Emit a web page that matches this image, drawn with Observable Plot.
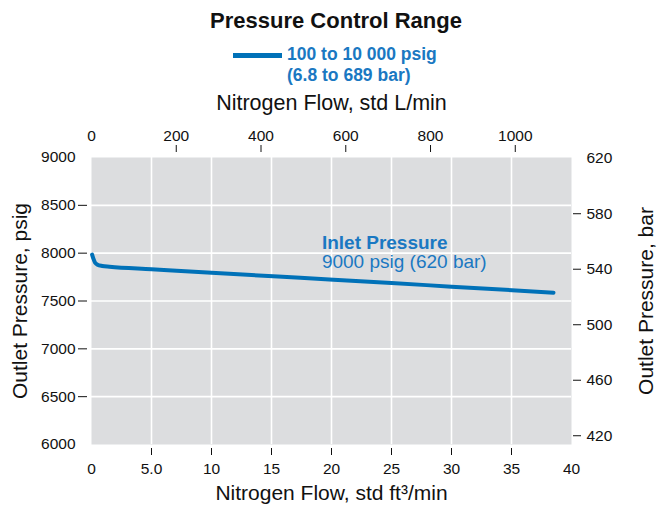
<!DOCTYPE html>
<html>
<head>
<meta charset="utf-8">
<script src="https://cdn.jsdelivr.net/npm/d3@7"></script>
<script src="https://cdn.jsdelivr.net/npm/@observablehq/plot@0.6"></script>
<style>
  html, body { margin: 0; padding: 0; background: #fff; }
  body { width: 660px; height: 506px; overflow: hidden; font-family: "Liberation Sans", Arial, sans-serif; }
  #head { position: relative; height: 88px; }
  #title { position: absolute; left: 0; width: 672px; top: 8px; text-align: center; font-weight: bold; font-size: 22px; color: #111; }
  #swatch { position: absolute; left: 233px; top: 53px; width: 49px; height: 5px; background: #0071b8; }
  #legtext { position: absolute; left: 287px; top: 44px; font-weight: bold; font-size: 17.5px; line-height: 21px; color: #1a78c2; }
</style>
</head>
<body>
<div id="head">
  <div id="title"></div>
  <div id="swatch"></div>
  <div id="legtext"></div>
</div>
<div id="chart"></div>
<script>
// ---- data ----
const titleText = "Pressure Control Range";
const legendLines = ["100 to 10 000 psig", "(6.8 to 689 bar)"];

const flowFt3 = [0.05, 0.15, 0.3, 0.5, 0.9, 1.5, 5, 10, 17.4, 25, 30, 38.5];
const pressurePsig = [7985, 7945, 7900, 7880, 7866, 7858, 7832, 7795, 7742, 7688, 7650, 7587];

const cfmTicks = [0, 5, 10, 15, 20, 25, 30, 35, 40];
const cfmTickLabels = ["0", "5.0", "10", "15", "20", "25", "30", "35", "40"];
const lpmTicks = [0, 200, 400, 600, 800, 1000];
const psigTicks = [6000, 6500, 7000, 7500, 8000, 8500, 9000];
const barTicks = [420, 460, 500, 540, 580, 620];

const xTitleBottom = ["Nitrogen Flow, std ft\u00B3/min"];
const xTitleTop = ["Nitrogen Flow, std L/min"];
const yTitleLeft = ["Outlet Pressure, psig"];
const yTitleRight = ["Outlet Pressure, bar"];
const annotX = [19.2];
const annotLine1 = ["Inlet Pressure"];
const annotLine1Y = [8112];
const annotLine2 = ["9000 psig (620 bar)"];
const annotLine2Y = [7905];

const L_PER_FT3 = 28.3168;
const PSI_PER_BAR = 14.5038;

// ---- build ----
document.getElementById("title").textContent = titleText;
document.getElementById("legtext").innerHTML = legendLines.map(s => `<div>${s}</div>`).join("");

const data = flowFt3.map((f, i) => ({flow: f, p: pressurePsig[i]}));
const lpmPos = lpmTicks.map(v => v / L_PER_FT3);
const barPos = barTicks.map(v => v * PSI_PER_BAR);
const inner = arr => arr.slice(1, -1);

const blue = "#0071b8";
const textBlue = "#1a78c2";

const chart = Plot.plot({
  width: 660,
  height: 418,
  marginTop: 69,
  marginBottom: 62,
  marginLeft: 91,
  marginRight: 89,
  x: {domain: [0, 40]},
  y: {domain: [6000, 9000]},
  style: {fontFamily: "'Liberation Sans', Arial, sans-serif", fontSize: "15.5px", color: "#111", background: "white"},
  marks: [
    Plot.frame({fill: "#dcdddf", stroke: "none"}),
    Plot.gridX(inner(cfmTicks), {stroke: "white", strokeOpacity: 1, strokeWidth: 1.6}),
    Plot.gridY(inner(psigTicks), {stroke: "white", strokeOpacity: 1, strokeWidth: 1.6}),
    Plot.line(data, {x: "flow", y: "p", stroke: blue, strokeWidth: 4, curve: "monotone-x"}),

    // bottom axis
    Plot.axisX(cfmTicks, {anchor: "bottom", tickSize: 0, tickPadding: 18, label: null,
      tickFormat: d => cfmTickLabels[cfmTicks.indexOf(d)]}),
    Plot.axisX(inner(cfmTicks), {anchor: "bottom", tickSize: 7, dy: 4, label: null, tickFormat: () => ""}),
    // top axis
    Plot.axisX(lpmPos, {anchor: "top", tickSize: 0, tickPadding: 17, label: null,
      tickFormat: d => String(lpmTicks[lpmPos.indexOf(d)])}),
    Plot.axisX(inner(lpmPos).concat([lpmPos[lpmPos.length - 1]]), {anchor: "top", tickSize: 7, dy: -6, label: null, tickFormat: () => ""}),
    // left axis
    Plot.axisY(psigTicks, {anchor: "left", tickSize: 0, tickPadding: 16, label: null,
      tickFormat: d => String(d)}),
    Plot.axisY(inner(psigTicks), {anchor: "left", tickSize: 9, dx: -4, label: null, tickFormat: () => ""}),
    // right axis
    Plot.axisY(barPos, {anchor: "right", tickSize: 0, tickPadding: 15, label: null,
      tickFormat: d => String(barTicks[barPos.indexOf(d)])}),
    Plot.axisY(barPos.slice(0, -1), {anchor: "right", tickSize: 8, dx: 1, label: null, tickFormat: () => ""}),

    // axis titles
    Plot.text(xTitleBottom, {text: d => d, frameAnchor: "bottom", dy: 49, fontSize: 21, lineAnchor: "middle", textAnchor: "middle"}),
    Plot.text(xTitleTop, {text: d => d, frameAnchor: "top", dy: -54, fontSize: 21.5, lineAnchor: "middle", textAnchor: "middle"}),
    Plot.text(yTitleLeft, {text: d => d, frameAnchor: "left", dx: -71, rotate: -90, fontSize: 21, lineAnchor: "middle", textAnchor: "middle"}),
    Plot.text(yTitleRight, {text: d => d, frameAnchor: "right", dx: 75, rotate: -90, fontSize: 21, lineAnchor: "middle", textAnchor: "middle"}),

    // annotation
    Plot.text(annotLine1, {x: annotX, y: annotLine1Y, text: d => d, textAnchor: "start", fontWeight: "bold", fontSize: 19, fill: textBlue}),
    Plot.text(annotLine2, {x: annotX, y: annotLine2Y, text: d => d, textAnchor: "start", fontSize: 19, fill: textBlue})
  ]
});
document.getElementById("chart").appendChild(chart);
</script>
</body>
</html>
